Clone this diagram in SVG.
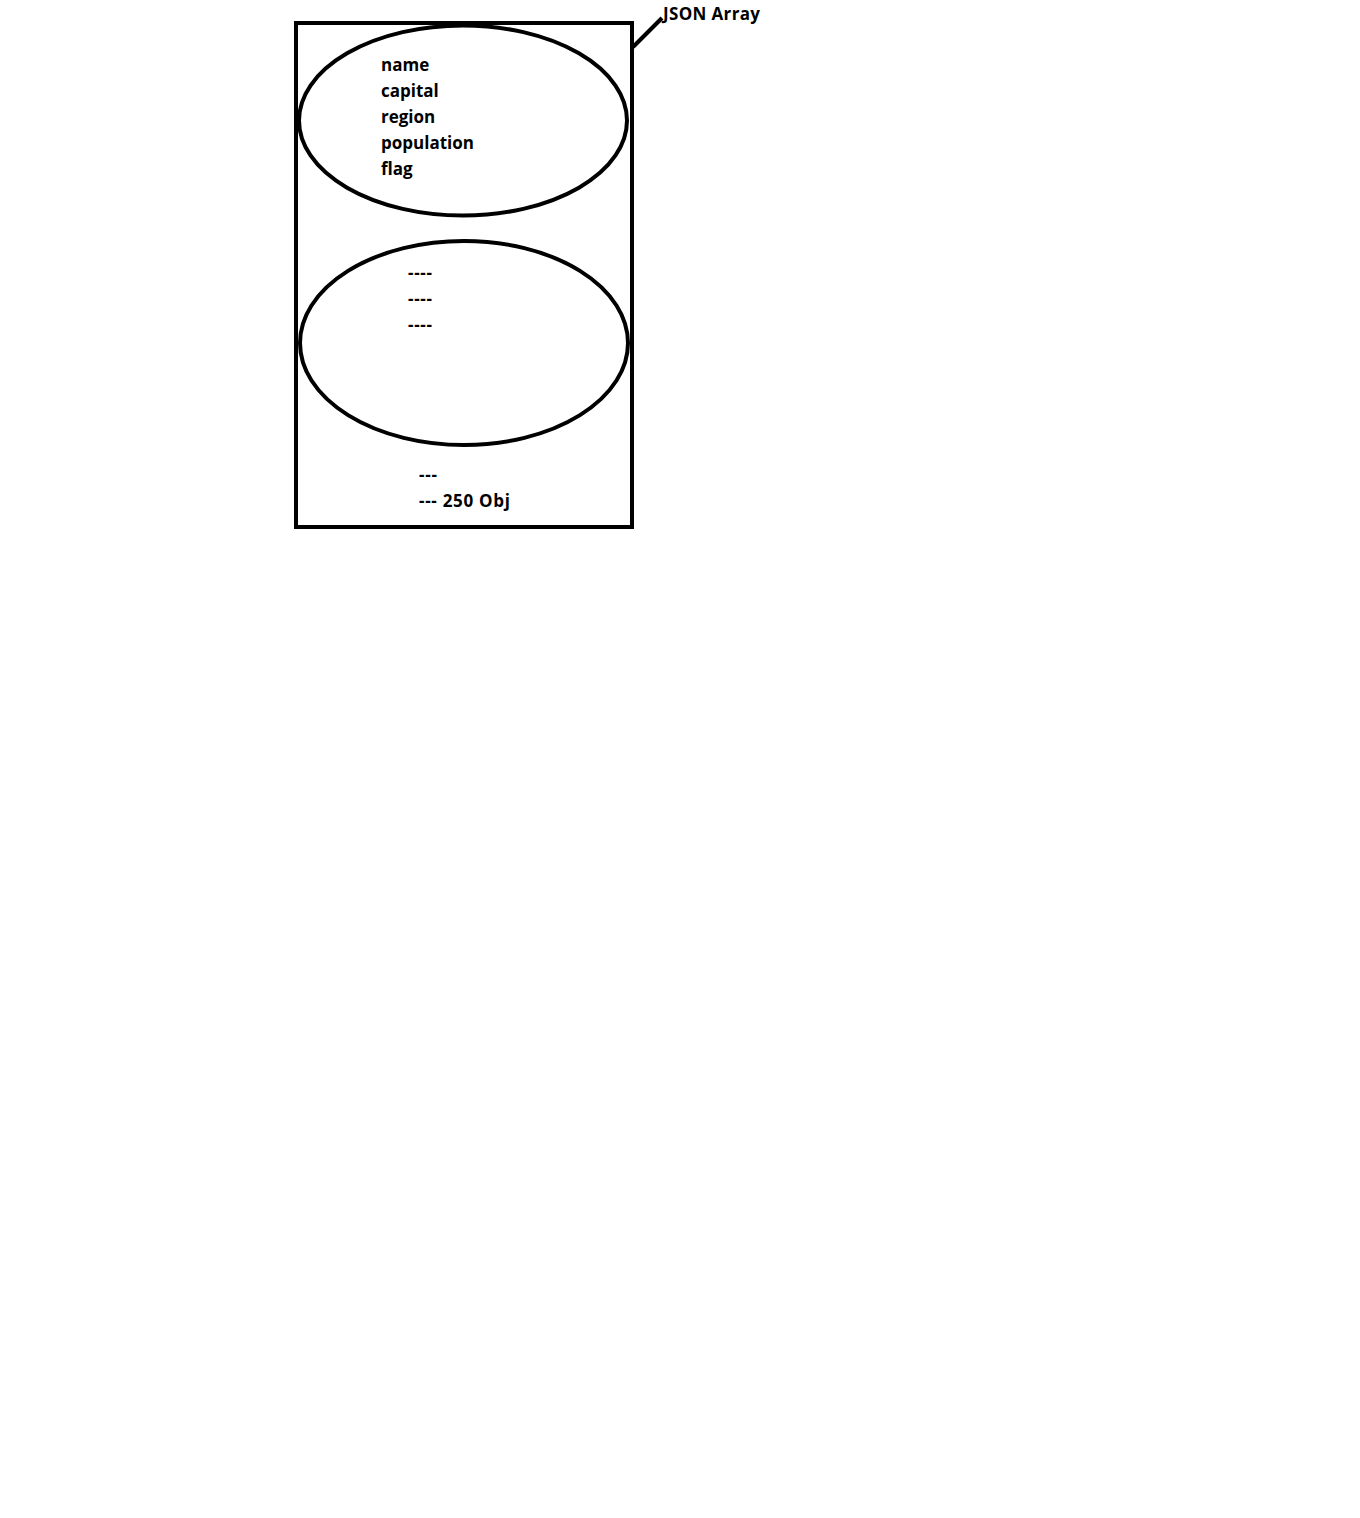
<svg xmlns="http://www.w3.org/2000/svg" width="1360" height="1518" viewBox="0 0 1360 1518">
<style>
.s{fill:none;stroke:#000;stroke-width:4}
text{font-family:"Open Sans","Noto Sans","Liberation Sans",sans-serif;font-weight:bold;font-size:17px;fill:#000}
</style>
<rect width="1360" height="1518" fill="#fff"/>
<g id="array">
<rect class="s" x="296" y="23" width="336" height="504"/>
<text x="663" y="20" textLength="97" lengthAdjust="spacing">JSON Array</text>
<text x="419" y="481" textLength="18" lengthAdjust="spacing">---</text>
<text x="419" y="507" textLength="91" lengthAdjust="spacing">--- 250 Obj</text>
</g>
<g id="obj1">
<ellipse class="s" cx="463" cy="120.5" rx="164" ry="95"/>
<text x="381" y="71">name</text>
<text x="381" y="97">capital</text>
<text x="381" y="123">region</text>
<text x="381" y="149">population</text>
<text x="381" y="175">flag</text>
</g>
<g id="obj2">
<ellipse class="s" cx="464" cy="343" rx="164" ry="102"/>
<text x="408" y="279" textLength="24" lengthAdjust="spacing">----</text>
<text x="408" y="305" textLength="24" lengthAdjust="spacing">----</text>
<text x="408" y="331" textLength="24" lengthAdjust="spacing">----</text>
</g>
<g id="connectors">
<line class="s" x1="633" y1="47" x2="662" y2="18"/>
</g>
</svg>
